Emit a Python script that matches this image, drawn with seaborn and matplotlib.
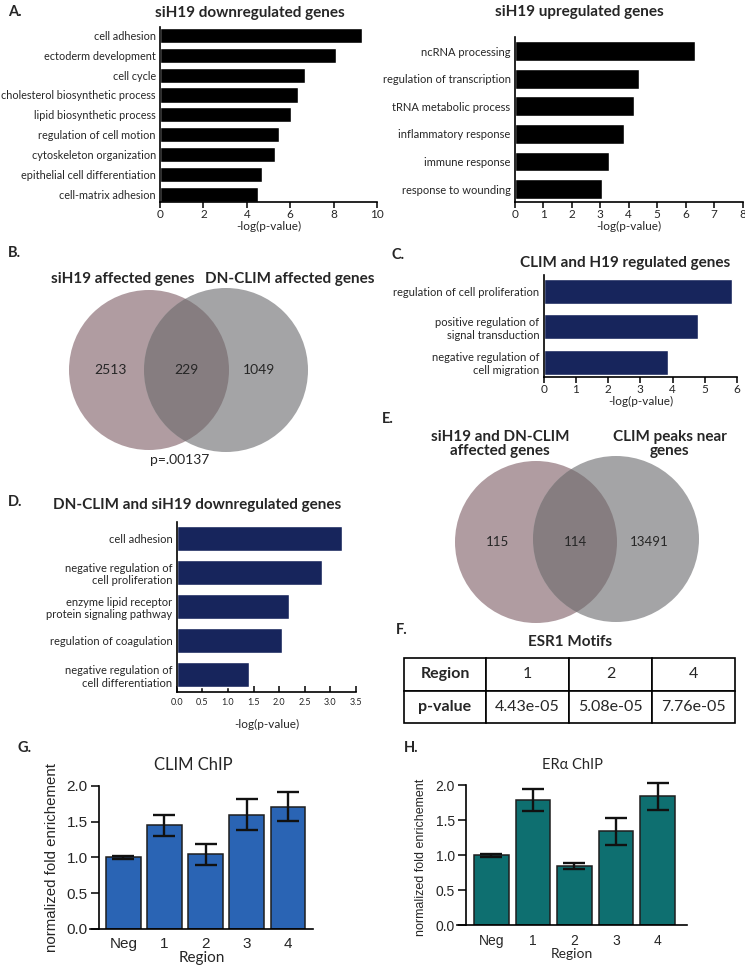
"""
Multi-panel figure: GO enrichment bars, Venn diagrams, motif table and ChIP bars
"""

import pandas as pd
import seaborn as sns
import matplotlib.pyplot as plt
from matplotlib.patches import Circle

# ---- data ----
a_down_terms = ["cell adhesion", "ectoderm development", "cell cycle",
                "cholesterol biosynthetic process", "lipid biosynthetic process",
                "regulation of cell motion", "cytoskeleton organization",
                "epithelial cell differentiation", "cell-matrix adhesion"]
a_down_vals = [9.3, 8.1, 6.7, 6.35, 6.04, 5.5, 5.3, 4.7, 4.5]

a_up_terms = ["ncRNA processing", "regulation of transcription", "tRNA metabolic process",
              "inflammatory response", "immune response", "response to wounding"]
a_up_vals = [6.34, 4.37, 4.2, 3.84, 3.32, 3.06]

c_terms = ["regulation of cell proliferation", "positive regulation of\nsignal transduction",
           "negative regulation of\ncell migration"]
c_vals = [5.83, 4.78, 3.86]

d_terms = ["cell adhesion", "negative regulation of\ncell proliferation",
           "enzyme lipid receptor\nprotein signaling pathway", "regulation of coagulation",
           "negative regulation of\ncell differentiation"]
d_vals = [3.23, 2.83, 2.2, 2.05, 1.41]

venn_b_counts = ["2513", "229", "1049"]
venn_b_sets = ["siH19 affected genes", "DN-CLIM affected genes"]
venn_b_p = "p=.00137"
venn_e_counts = ["115", "114", "13491"]
venn_e_sets = ["siH19 and DN-CLIM\naffected genes", "CLIM peaks near\ngenes"]

motif_regions = ["1", "2", "4"]
motif_pvals = ["4.43e-05", "5.08e-05", "7.76e-05"]

regions = ["Neg", "1", "2", "3", "4"]
clim_vals = [1.0, 1.45, 1.04, 1.60, 1.71]
clim_err = [0.02, 0.145, 0.145, 0.22, 0.20]
era_vals = [1.0, 1.79, 0.85, 1.34, 1.84]
era_err = [0.02, 0.16, 0.04, 0.19, 0.19]

W, H = 745, 967
sns.set_theme(style="ticks")
plt.rcParams["font.family"] = ["Lato", "DejaVu Sans"]
plt.rcParams["axes.linewidth"] = 1.2

fig = plt.figure(figsize=(W / 100, H / 100), dpi=100)


def box(x0, y0, x1, y1):
    return fig.add_axes([x0 / W, 1 - y1 / H, (x1 - x0) / W, (y1 - y0) / H])


def txt(x, y, s, **kw):
    fig.text(x / W, 1 - y / H, s, **kw)


def hbar(ax, terms, vals, color, width, xlim, xticks, ylim, fs=8, tickfs=8.5):
    df = pd.DataFrame({"term": terms, "val": vals})
    sns.barplot(data=df, x="val", y="term", color=color, width=width,
                saturation=1, orient="h", ax=ax)
    ax.set_xlim(*xlim)
    ax.set_ylim(*ylim)
    ax.set_xticks(xticks)
    ax.set_xlabel("-log(p-value)", fontsize=8.5, labelpad=1)
    ax.set_ylabel("")
    ax.tick_params(axis="y", length=0, labelsize=fs, pad=3)
    ax.tick_params(axis="x", length=4, width=1.1, labelsize=tickfs, pad=1, color="black")
    sns.despine(ax=ax)
    for s in ax.spines.values():
        s.set_color("black")


def venn(ax, c1, c2, r1, r2, counts, fs=10):
    left = Circle(c1, r1, facecolor="#b09ca1", edgecolor="none")
    right = Circle(c2, r2, facecolor="#a4a4a6", edgecolor="none")
    ax.add_patch(left)
    ax.add_patch(right)
    mid = Circle(c1, r1, facecolor="#867d80", edgecolor="none")
    ax.add_patch(mid)
    mid.set_clip_path(right)
    ax.set_aspect("equal")
    ax.axis("off")
    xs = [c1[0] - r1 * 0.48, (c1[0] + r1 + c2[0] - r2) / 2, c2[0] + r2 * 0.4]
    for x, c in zip(xs, counts):
        ax.text(x, c1[1], c, ha="center", va="center", fontsize=fs)


# ---- A ----
ax = box(160, 27, 377, 202)
hbar(ax, a_down_terms, a_down_vals, "black", 0.76, (0, 10), [0, 2, 4, 6, 8, 10], (8.4, -0.43),
     fs=7.8)
ax = box(514.7, 37, 742.7, 202)
hbar(ax, a_up_terms, a_up_vals, "black", 0.72, (0, 8), range(9), (5.47, -0.51))
txt(8, 12, "A.", fontsize=10.5, weight="bold", va="center")
txt(250, 13, "siH19 downregulated genes", fontsize=11, weight="bold", ha="center", va="center")
txt(579, 12, "siH19 upregulated genes", fontsize=11, weight="bold", ha="center", va="center")

# ---- B ----
ax = box(60, 285, 320, 455)
ax.set_xlim(60, 320)
ax.set_ylim(455, 285)
venn(ax, (149, 370), (226, 370), 80, 82, venn_b_counts)
txt(8, 253, "B.", fontsize=10.5, weight="bold", va="center")
txt(123, 279, venn_b_sets[0], fontsize=11, weight="bold", ha="center", va="center")
txt(290, 279, venn_b_sets[1], fontsize=11, weight="bold", ha="center", va="center")
txt(180, 460, venn_b_p, fontsize=10, ha="center", va="center")

# ---- C ----
ax = box(543.7, 275, 737, 377)
hbar(ax, c_terms, c_vals, "#17255c", 0.7, (0, 6), range(7), (2.41, -0.46))
txt(392, 255, "C.", fontsize=10.5, weight="bold", va="center")
txt(625, 263, "CLIM and H19 regulated genes", fontsize=11, weight="bold", ha="center", va="center")

# ---- D ----
ax = box(176.7, 522, 356, 692)
hbar(ax, d_terms, d_vals, "#17255c", 0.73, (0, 3.5), [0, 0.5, 1, 1.5, 2, 2.5, 3, 3.5],
     (4.5, -0.48), tickfs=6.5)
ax.xaxis.set_major_formatter(plt.FormatStrFormatter("%.1f"))
ax.tick_params(axis="x", direction="in", pad=4)
ax.xaxis.labelpad = 9
txt(8, 502, "D.", fontsize=10.5, weight="bold", va="center")
txt(197, 505, "DN-CLIM and siH19 downregulated genes", fontsize=11, weight="bold",
    ha="center", va="center")

# ---- E ----
ax = box(440, 450, 710, 630)
ax.set_xlim(440, 710)
ax.set_ylim(630, 450)
venn(ax, (536, 542), (616, 539), 81, 83, venn_e_counts, fs=9.5)
txt(382, 419, "E.", fontsize=10.5, weight="bold", va="center")
txt(500, 444, venn_e_sets[0], fontsize=11, weight="bold", ha="center", va="center",
    linespacing=1.05)
txt(670, 444, venn_e_sets[1], fontsize=11, weight="bold", ha="center", va="center",
    linespacing=1.05)

# ---- F ----
ax = box(404, 658, 735, 723)
ax.axis("off")
cells = [["Region"] + motif_regions, ["p-value"] + motif_pvals]
tab = ax.table(cellText=cells, cellLoc="center", bbox=[0, 0, 1, 1],
               colWidths=[82, 83, 83, 83])
tab.auto_set_font_size(False)
for (r, c), cell in tab.get_celld().items():
    cell.set_linewidth(1.2)
    cell.set_edgecolor("black")
    cell.get_text().set_fontsize(11.5)
    if c == 0:
        cell.get_text().set_weight("bold")
txt(396, 630, "F.", fontsize=10.5, weight="bold", va="center")
txt(570, 642, "ESR1 Motifs", fontsize=11, weight="bold", ha="center", va="center")


# ---- G / H ----
def chip(ax, vals, errs, color, xlim, ytop, spine_x, labfs, fs):
    df = pd.DataFrame({"region": regions, "val": vals})
    sns.barplot(data=df, x="region", y="val", color=color, width=0.84, saturation=1,
                edgecolor="#1e1e1e", linewidth=1.1, ax=ax)
    ax.errorbar(range(len(vals)), vals, yerr=errs, fmt="none", ecolor="#111111",
                elinewidth=1.7, capsize=8, capthick=1.7, zorder=5)
    ax.set_xlim(*xlim)
    ax.set_ylim(0, ytop)
    ax.set_yticks([0, 0.5, 1.0, 1.5, 2.0])
    ax.yaxis.set_major_formatter(plt.FormatStrFormatter("%.1f"))
    sns.despine(ax=ax)
    ax.spines["left"].set_position(("data", spine_x))
    ax.spines["left"].set_bounds(0, 2)
    for s in ax.spines.values():
        s.set_color("black")
    ax.tick_params(axis="y", length=6, width=1.1, color="black", pad=2)
    ax.tick_params(axis="x", length=0, pad=6)
    for lab in ax.get_xticklabels() + ax.get_yticklabels():
        lab.set_family(["Liberation Sans", "DejaVu Sans"])
        lab.set_fontsize(fs)
    ax.set_xlabel("Region", fontsize=fs, labelpad=0)
    ax.set_ylabel("normalized fold enrichement", fontsize=labfs,
                  family=["Liberation Sans", "DejaVu Sans"])


ax = box(90, 775, 313, 928.7)
chip(ax, clim_vals, clim_err, "#2a64b4", (-0.81, 4.61), 2.154, -0.6, 10.8, 11)
ax.yaxis.set_label_coords(-0.14, 0.466)
txt(18, 748, "G.", fontsize=10.5, weight="bold", va="center")
txt(193, 765, "CLIM ChIP", fontsize=12, ha="center", va="center")

ax = box(457, 775, 687, 925.3)
chip(ax, era_vals, era_err, "#0e6f70", (-0.83, 4.71), 2.147, -0.61, 9, 10)
ax.yaxis.set_label_coords(-0.13, 0.454)
txt(404, 748, "H.", fontsize=10.5, weight="bold", va="center")
txt(572, 765, "ERα ChIP", fontsize=10.5, ha="center", va="center")

fig.savefig("out.png", dpi=100)
